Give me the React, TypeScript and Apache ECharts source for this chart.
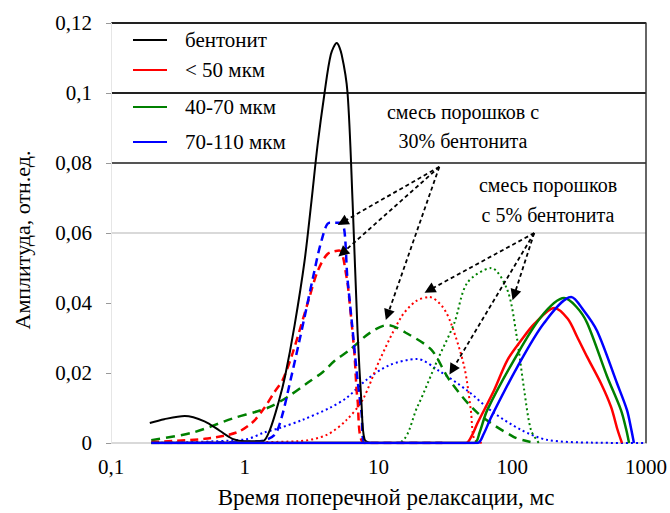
import React, { useEffect, useRef } from 'react';
import * as echarts from 'echarts';

// Tick labels
const xTickValues = [0.1, 1, 10, 100, 1000];
const xTickLabels = ['0,1', '1', '10', '100', '1000'];
const yTickLabels = ['0', '0,02', '0,04', '0,06', '0,08', '0,1', '0,12'];

// Legend names
const legendNames = ['бентонит', '< 50 мкм', '40-70 мкм', '70-110 мкм'];
const legendColors = ['#000000', '#ff0000', '#008000', '#0000ff'];

// Pure bentonite
const bentonite: number[][] = [
  [0.195, 0.0057], [0.25, 0.0068], [0.356, 0.0077], [0.5, 0.0062], [0.65, 0.0035], [0.81, 0.0012],
  [1.0, 0.0005], [1.36, 0.0005], [1.54, 0.0037], [1.8, 0.012], [2.0, 0.019], [2.36, 0.0337],
  [2.8, 0.052], [3.16, 0.0694], [3.5, 0.085], [3.95, 0.1], [4.4, 0.111], [4.87, 0.1143],
  [5.3, 0.111], [5.87, 0.1], [6.4, 0.069], [6.97, 0.032], [7.47, 0.011], [7.87, 0.001], [9, 0], [40, 0],
];

// Pure powders (solid)
const redPure: number[][] = [
  [0.2, 0], [45, 0], [50, 0.0022], [55, 0.0057], [73, 0.015], [92, 0.0237], [117, 0.0294], [146, 0.034],
  [206, 0.0386], [260, 0.0355], [306, 0.0303], [363, 0.0246], [461, 0.017], [548, 0.0103], [610, 0.004], [661, 0],
];
const greenPure: number[][] = [
  [0.2, 0], [52, 0], [57, 0.003], [65, 0.0094], [103, 0.0237], [164, 0.036], [244, 0.0414], [300, 0.039], [363, 0.0343],
  [512, 0.019], [650, 0.0094], [710, 0.004], [747, 0],
];
const bluePure: number[][] = [
  [0.2, 0], [55, 0], [61, 0.0025], [69.6, 0.0074], [109, 0.0217], [173, 0.0343], [276, 0.0417], [340, 0.038], [431, 0.032],
  [608, 0.017], [721, 0.0094], [775, 0.004], [812, 0],
];

// Mixtures with 30% bentonite (dashed)
const red30: number[][] = [
  [0.2, 0.0003], [0.5, 0.0012], [0.87, 0.003], [1.15, 0.006], [1.4, 0.01], [1.67, 0.0146],
  [1.92, 0.018], [2.28, 0.0257], [3.05, 0.0417], [3.5, 0.049], [4.16, 0.054], [5.1, 0.055],
  [5.77, 0.0474], [6.05, 0.041], [6.6, 0.0257], [6.97, 0.0123], [7.87, 0], [30, 0],
];
const green30: number[][] = [
  [0.2, 0.0008], [0.41, 0.003], [0.81, 0.007], [1.23, 0.009], [1.54, 0.0103], [2.06, 0.013],
  [2.9, 0.017], [3.84, 0.0203], [4.7, 0.0235], [6.05, 0.0265], [8.57, 0.0314], [11.7, 0.0337],
  [16, 0.0315], [24.9, 0.0266], [33.9, 0.018], [55, 0.0086], [103, 0.0017], [137, 0.0003],
];
const blue30: number[][] = [
  [0.2, 0], [1.3, 0.0005], [1.67, 0.0023], [1.89, 0.0074], [2.17, 0.017], [2.57, 0.0294],
  [2.8, 0.036], [3.21, 0.0466], [3.76, 0.058], [4.3, 0.0629], [5.3, 0.0629], [5.87, 0.0466],
  [6.3, 0.035], [6.97, 0.018], [7.47, 0.0086], [7.87, 0], [30, 0],
];

// Mixtures with 5% bentonite (dotted)
const red5: number[][] = [
  [0.2, 0], [2.5, 0.0005], [4.1, 0.0023], [5.77, 0.0066], [7.6, 0.0123], [10.2, 0.0237],
  [14.8, 0.036], [19, 0.0405], [24, 0.0417], [30, 0.039], [35, 0.034], [43.8, 0.0217],
  [49, 0.0094], [52, 0.001], [60, 0],
];
const green5: number[][] = [
  [0.2, 0], [13.8, 0], [19.5, 0.0103], [27.6, 0.0237], [36.9, 0.0343], [46, 0.0457],
  [69.6, 0.05], [92, 0.0437], [107, 0.0314], [123, 0.015], [138, 0.0037], [158, 0],
];
const blue5: number[][] = [
  [0.2, 0], [1.0, 0.001], [1.4, 0.003], [1.83, 0.0043], [2.7, 0.0066], [4.3, 0.01],
  [5.77, 0.0129], [8.1, 0.018], [12, 0.0222], [19.5, 0.024], [27.6, 0.0209], [46, 0.015],
  [73, 0.0086], [117, 0.0037], [182, 0.0009], [400, 0.0001], [1000, 0],
];

// Annotation arrows: [from, to] in data coordinates
const arrows30: number[][][] = [
  [[28.5, 0.0789], [5.38, 0.0631]],
  [[28.5, 0.0789], [5.38, 0.0543]],
  [[28.5, 0.0789], [11.7, 0.0366]],
];
const arrows5: number[][][] = [
  [[146, 0.06], [24, 0.0437]],
  [[146, 0.06], [103.5, 0.0423]],
  [[146, 0.06], [35.6, 0.0209]],
];

const FONT = "'Liberation Serif', serif";

export default function App() {
  const ref = useRef<HTMLDivElement>(null);
  useEffect(() => {
    if (!ref.current) return;
    const chart = echarts.init(ref.current, null, { renderer: 'svg' });

    const mk = (name: string, data: number[][], color: string, type: any, width: number, z: number) => ({
      name,
      type: 'line',
      data,
      smooth: 0.3,
      showSymbol: false,
      symbol: 'none',
      z,
      lineStyle: { color, width, type },
      itemStyle: { color },
    });

    const arrowLines = [...arrows30, ...arrows5].map((a) => [
      { coord: a[0], symbol: 'none' },
      { coord: a[1], symbol: 'triangle' },
    ]);

    const option: any = {
      animation: false,
      backgroundColor: '#ffffff',
      grid: { left: 111, right: 23, top: 23, bottom: 70, containLabel: false },
      xAxis: {
        type: 'log',
        logBase: 10,
        min: 0.1,
        max: 1000,
        axisLine: { show: true, lineStyle: { color: '#d9d9d9', width: 1 } },
        axisTick: { show: false },
        splitLine: { show: false },
        axisLabel: {
          margin: 13,
          fontFamily: FONT,
          fontSize: 21,
          color: '#000',
          formatter: (v: number) => {
            const i = xTickValues.findIndex((t) => Math.abs(Math.log10(t) - Math.log10(v)) < 1e-6);
            return i >= 0 ? xTickLabels[i] : '';
          },
        },
      },
      yAxis: [
        {
          type: 'value',
          min: 0,
          max: 0.12,
          interval: 0.02,
          axisLine: { show: true, lineStyle: { color: '#e6e6e6' } },
          axisTick: { show: true, length: 5, lineStyle: { color: '#999' } },
          splitLine: {
            show: true,
            lineStyle: {
              color: ['#d9d9d9', '#ffffff', '#ffffff', '#d9d9d9', '#555555', '#222222', '#222222'],
              width: 2,
            },
          },
          axisLabel: {
            margin: 19,
            fontFamily: FONT,
            fontSize: 21,
            color: '#000',
            formatter: (v: number) => yTickLabels[Math.round(v / 0.02)] ?? '',
          },
        },
        {
          type: 'value',
          position: 'right',
          min: 0,
          max: 0.12,
          interval: 0.02,
          axisLine: { show: true, lineStyle: { color: '#333', width: 1.5 } },
          axisTick: { show: false },
          axisLabel: { show: false },
          splitLine: { show: false },
        },
      ],
      series: [
        mk('blue5', blue5, '#0000ff', [2, 3], 2, 2),
        mk('red5', red5, '#ff0000', [2, 3], 2, 2),
        mk('green5', green5, '#008000', [2, 3], 2, 2),
        mk('green30', green30, '#008000', [9, 6], 2.5, 3),
        mk('red30', red30, '#ff0000', [8, 5], 2.5, 3),
        mk('blue30', blue30, '#0000ff', [8, 5], 2.5, 3),
        mk('bentonite', bentonite, '#000000', 'solid', 2, 4),
        mk('redPure', redPure, '#ff0000', 'solid', 2.5, 4),
        mk('greenPure', greenPure, '#008000', 'solid', 2.5, 4),
        {
          ...mk('bluePure', bluePure, '#0000ff', 'solid', 2.5, 4),
          markLine: {
            silent: true,
            animation: false,
            symbolSize: 11,
            label: { show: false },
            lineStyle: { color: '#000', type: [4, 3], width: 1.8 },
            itemStyle: { color: '#000' },
            data: arrowLines,
          },
        },
      ],
      graphic: [
        ...legendNames.flatMap((n, i) => {
          const ys = [40, 70, 107, 142];
          return [
            {
              type: 'line',
              shape: { x1: 133, y1: ys[i], x2: 167, y2: ys[i] },
              style: { stroke: legendColors[i], lineWidth: 2 },
              z: 100,
            },
            {
              type: 'text',
              x: 185,
              y: ys[i],
              style: {
                text: n,
                fontFamily: FONT,
                fontSize: 21,
                fill: '#000',
                textVerticalAlign: 'middle',
                textAlign: 'left',
              },
              z: 100,
            },
          ];
        }),
        {
          type: 'text',
          x: 463,
          y: 126,
          style: {
            text: 'смесь порошков с\n30% бентонита',
            fontFamily: FONT,
            fontSize: 20,
            lineHeight: 29,
            fill: '#000',
            textAlign: 'center',
            textVerticalAlign: 'middle',
          },
          z: 100,
        },
        {
          type: 'text',
          x: 548,
          y: 200,
          style: {
            text: 'смесь порошков\nс 5% бентонита',
            fontFamily: FONT,
            fontSize: 20,
            lineHeight: 30,
            fill: '#000',
            textAlign: 'center',
            textVerticalAlign: 'middle',
          },
          z: 100,
        },
        {
          type: 'text',
          x: 22,
          y: 240,
          rotation: Math.PI / 2,
          style: {
            text: 'Амплитуда, отн.ед.',
            fontFamily: FONT,
            fontSize: 22,
            fill: '#000',
            textAlign: 'center',
            textVerticalAlign: 'middle',
          },
        },
        {
          type: 'text',
          x: 386,
          y: 497,
          style: {
            text: 'Время поперечной релаксации, мс',
            fontFamily: FONT,
            fontSize: 23,
            fill: '#000',
            textAlign: 'center',
            textVerticalAlign: 'middle',
          },
        },
      ],
    };
    chart.setOption(option);
    return () => chart.dispose();
  }, []);
  return <div ref={ref} style={{ position: 'absolute', left: 0, top: 0, width: 670, height: 513 }} />;
}
